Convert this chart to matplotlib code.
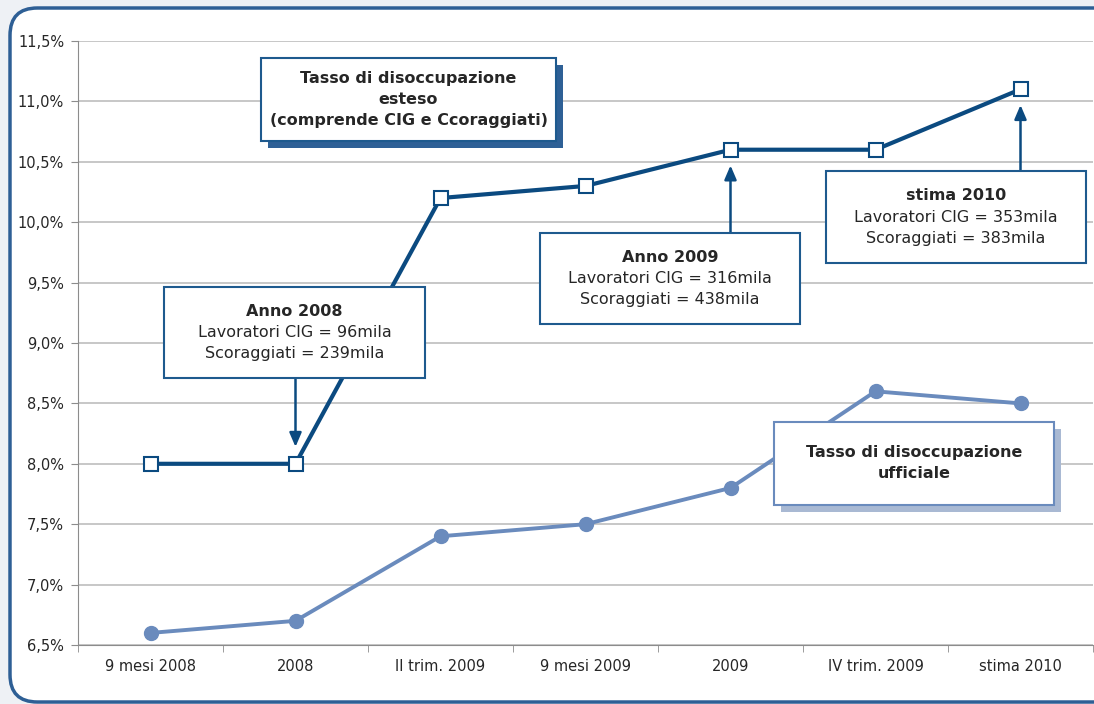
import numpy as np
import matplotlib.pyplot as plt
from matplotlib.patches import FancyBboxPatch, Rectangle

# data
categories = ["9 mesi 2008", "2008", "II trim. 2009", "9 mesi 2009",
              "2009", "IV trim. 2009", "stima 2010"]
tasso_esteso = [8.0, 8.0, 10.2, 10.3, 10.6, 10.6, 11.1]
tasso_ufficiale = [6.6, 6.7, 7.4, 7.5, 7.8, 8.6, 8.5]
yticks = [6.5, 7.0, 7.5, 8.0, 8.5, 9.0, 9.5, 10.0, 10.5, 11.0, 11.5]

W, H = 1094, 704
DARK = "#0b4a80"
LIGHT = "#6a8bbd"
TXT = "#262626"

plt.rcParams['font.family'] = ['DejaVu Sans']

fig = plt.figure(figsize=(W / 100, H / 100), dpi=100)
fig.patch.set_facecolor("#eef1f5")


def px(x, y):
    """image pixel (top-left origin) -> figure fraction"""
    return x / W, 1 - y / H


# outer frame
x0, y0 = px(10, 702)
frame = FancyBboxPatch((x0, y0), 1.2, (702 - 8) / H, transform=fig.transFigure,
                       boxstyle="round,pad=0,rounding_size=0.025",
                       facecolor="white", edgecolor="#2e5f95", lw=2.5,
                       mutation_aspect=W / H, zorder=-1)
fig.patches.append(frame)

ax = fig.add_axes([78 / W, 1 - 645 / H, (1093 - 78) / W, (645 - 41) / H])
ax.set_facecolor("none")
ax.set_zorder(1)

x = np.arange(len(categories))
ax.plot(x, tasso_esteso, color=DARK, lw=3, marker="s", ms=10,
        mfc="white", mec=DARK, mew=1.5, zorder=4)
ax.plot(x, tasso_ufficiale, color=LIGHT, lw=2.8, marker="o", ms=10,
        mfc=LIGHT, mec=LIGHT, zorder=4)

ax.set_xlim(-0.5, len(categories) - 0.5)
ax.set_ylim(6.5, 11.5)
ax.set_yticks(yticks)
ax.set_yticklabels([f"{v:.1f}%".replace(".", ",") for v in yticks])
ax.set_xticks(x)
ax.set_xticklabels(categories)
ax.set_xticks(np.arange(-0.5, len(categories), 1), minor=True)
ax.tick_params(axis="x", which="major", length=0, pad=10, labelsize=10.5, labelcolor=TXT)
ax.tick_params(axis="x", which="minor", length=5, color="#8c8c8c")
ax.tick_params(axis="y", length=5, color="#8c8c8c", labelsize=10.5, labelcolor=TXT, pad=5)
ax.grid(axis="y", color="#bdbdbd", lw=1.2)
ax.set_axisbelow(True)
for s in ["top", "right"]:
    ax.spines[s].set_visible(False)
for s in ["left", "bottom"]:
    ax.spines[s].set_color("#8c8c8c")


def box(xa, ya, xb, yb, lines, edge, shadow=None, off=7):
    if shadow is not None:
        sx, sy = px(xa + off, yb + off)
        fig.patches.append(Rectangle((sx, sy), (xb - xa) / W, (yb - ya) / H,
                                     transform=fig.transFigure, facecolor=shadow,
                                     edgecolor="none", zorder=5))
    bx, by = px(xa, yb)
    fig.patches.append(Rectangle((bx, by), (xb - xa) / W, (yb - ya) / H,
                                 transform=fig.transFigure, facecolor="white",
                                 edgecolor=edge, lw=1.5, zorder=6))
    cx, cy = px((xa + xb) / 2, (ya + yb) / 2)
    n = len(lines)
    step = 21 / H
    for i, (t, bold) in enumerate(lines):
        fig.text(cx, cy + (n - 1) / 2 * step - i * step, t, ha="center", va="center",
                 fontsize=11.5, color=TXT, fontweight="bold" if bold else "normal",
                 zorder=7)


box(261, 58, 556, 141, [("Tasso di disoccupazione", True), ("esteso", True),
                        ("(comprende CIG e Ccoraggiati)", True)], "#1e5a8e",
    shadow="#2e6096", off=7)
box(774, 422, 1054, 505, [("Tasso di disoccupazione", True), ("ufficiale", True)],
    LIGHT, shadow="#a9b9d3", off=7)
box(164, 287, 425, 378, [("Anno 2008", True), ("Lavoratori CIG = 96mila", False),
                         ("Scoraggiati = 239mila", False)], "#1e5a8e")
box(540, 233, 800, 324, [("Anno 2009", True), ("Lavoratori CIG = 316mila", False),
                         ("Scoraggiati = 438mila", False)], "#1e5a8e")
box(826, 171, 1086, 263, [("stima 2010", True), ("Lavoratori CIG = 353mila", False),
                          ("Scoraggiati = 383mila", False)], "#1e5a8e")

arrow = dict(arrowstyle="-|>,head_length=0.7,head_width=0.3", color=DARK, lw=1.8,
             mutation_scale=12, shrinkA=0, shrinkB=0)
for xi, ys, ye in [(1, 8.70, 8.14), (4, 9.91, 10.47), (6, 10.42, 10.97)]:
    ax.annotate("", xy=(xi, ye), xytext=(xi, ys), arrowprops=arrow, zorder=3)

fig.savefig("out.png", dpi=100, facecolor=fig.get_facecolor())
